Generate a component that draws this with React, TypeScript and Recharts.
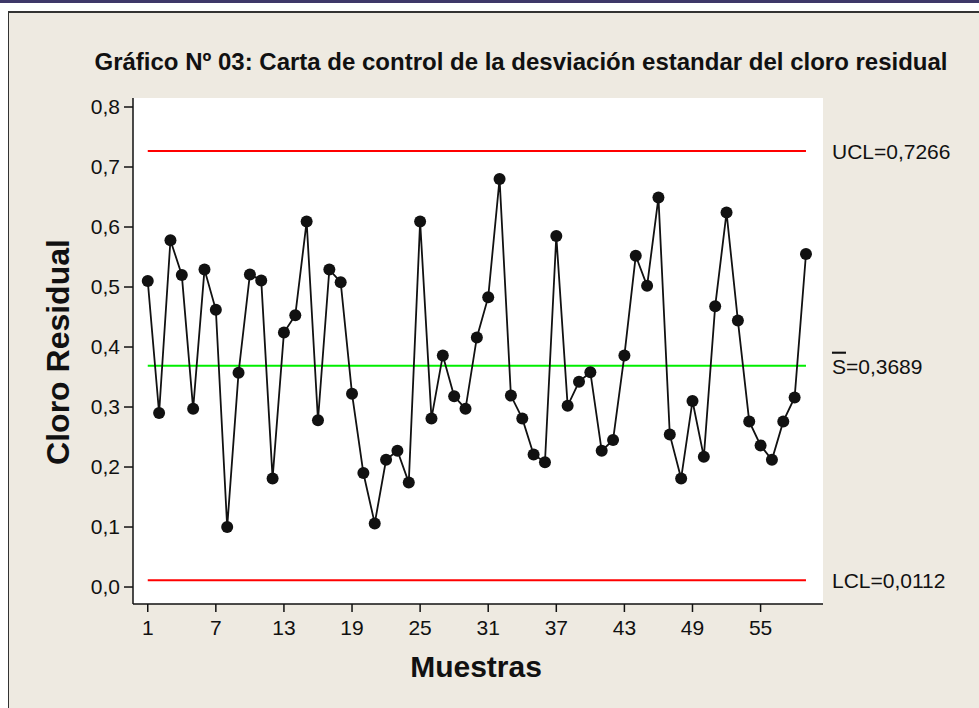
import React from "react";
import {
  LineChart,
  Line,
  XAxis,
  YAxis,
  CartesianGrid,
  ReferenceLine,
} from "recharts";

const muestras = [
  1, 2, 3, 4, 5, 6, 7, 8, 9, 10, 11, 12, 13, 14, 15, 16, 17, 18, 19, 20,
  21, 22, 23, 24, 25, 26, 27, 28, 29, 30, 31, 32, 33, 34, 35, 36, 37, 38, 39, 40,
  41, 42, 43, 44, 45, 46, 47, 48, 49, 50, 51, 52, 53, 54, 55, 56, 57, 58, 59,
];

const desviacion = [
  0.51, 0.29, 0.578, 0.52, 0.297, 0.529, 0.462, 0.1, 0.357, 0.521,
  0.511, 0.181, 0.424, 0.453, 0.609, 0.278, 0.529, 0.508, 0.322, 0.19,
  0.106, 0.212, 0.227, 0.174, 0.609, 0.281, 0.386, 0.318, 0.297, 0.416,
  0.483, 0.68, 0.319, 0.281, 0.221, 0.208, 0.585, 0.302, 0.342, 0.358,
  0.227, 0.245, 0.386, 0.552, 0.502, 0.649, 0.254, 0.181, 0.31, 0.217,
  0.468, 0.624, 0.444, 0.276, 0.236, 0.212, 0.276, 0.316, 0.555,
];

const xTicks = [1, 7, 13, 19, 25, 31, 37, 43, 49, 55];
const yTicks = [0, 0.1, 0.2, 0.3, 0.4, 0.5, 0.6, 0.7, 0.8];

const UCL = 0.7266;
const S_BAR = 0.3689;
const LCL = 0.0112;

const data = muestras.map((m, i) => ({ muestra: m, s: desviacion[i] }));

const first = muestras[0];
const last = muestras[muestras.length - 1];

const tickFont = { fontFamily: "Liberation Sans", fontSize: 21, fill: "#111" };

function limitLabel(prefix: string, value: number, bar = false) {
  return (props: any) => {
    const vb = props.viewBox;
    const x = vb.x + vb.width + 26;
    const y = vb.y + vb.height / 2;
    const txt = "=" + value.toFixed(4).replace(".", ",");
    return (
      <text x={x} y={y} dominantBaseline="central" {...tickFont}>
        <tspan textDecoration={bar ? "overline" : undefined}>{prefix}</tspan>
        <tspan>{txt}</tspan>
      </text>
    );
  };
}

export default function App() {
  return (
    <div
      style={{
        position: "absolute",
        left: 0,
        top: 0,
        width: 979,
        height: 708,
        background: "#fff",
        overflow: "hidden",
      }}
    >
      <div style={{ position: "absolute", left: 0, top: 0, width: 979, height: 3, background: "#3e3868" }} />
      <div
        style={{
          position: "absolute",
          left: 8,
          top: 11,
          width: 971,
          height: 697,
          background: "#eeeae1",
          borderTop: "2px solid #333",
          borderLeft: "1px solid #333",
        }}
      />
      <div
        style={{
          position: "absolute",
          left: 521,
          top: 62,
          transform: "translate(-50%, -50%)",
          whiteSpace: "nowrap",
          fontFamily: "Liberation Sans",
          fontWeight: "bold",
          fontSize: 24,
          color: "#111",
        }}
      >
        Gráfico Nº 03: Carta de control de la desviación estandar del cloro residual
      </div>
      <div
        style={{
          position: "absolute",
          left: 58,
          top: 352,
          transform: "translate(-50%, -50%) rotate(-90deg)",
          whiteSpace: "nowrap",
          fontFamily: "Liberation Sans",
          fontWeight: "bold",
          fontSize: 32,
          color: "#111",
        }}
      >
        Cloro Residual
      </div>
      <div
        style={{
          position: "absolute",
          left: 476,
          top: 667,
          transform: "translate(-50%, -50%)",
          whiteSpace: "nowrap",
          fontFamily: "Liberation Sans",
          fontWeight: "bold",
          fontSize: 30,
          color: "#111",
        }}
      >
        Muestras
      </div>
      <div style={{ position: "absolute", left: 0, top: 0 }}>
        <LineChart
          width={979}
          height={708}
          data={data}
          margin={{ top: 98, right: 156, bottom: 44, left: 73 }}
        >
          <CartesianGrid horizontal={false} vertical={false} fill="#fff" />
          <XAxis
            dataKey="muestra"
            type="number"
            domain={[-0.3, 60.5]}
            ticks={xTicks}
            height={60}
            tickSize={8}
            tickMargin={8}
            tick={tickFont}
            stroke="#111"
            strokeWidth={1.5}
            allowDataOverflow
          />
          <XAxis
            xAxisId="top"
            orientation="top"
            type="number"
            domain={[0, 1]}
            height={0}
            tick={false}
            tickLine={false}
            stroke="#111"
            strokeWidth={1.5}
          />
          <YAxis
            type="number"
            domain={[-0.0283, 0.815]}
            ticks={yTicks}
            width={60}
            tickSize={9}
            tickMargin={4}
            tick={tickFont}
            tickFormatter={(v: number) => v.toFixed(1).replace(".", ",")}
            stroke="#111"
            strokeWidth={1.5}
            allowDataOverflow
          />
          <YAxis
            yAxisId="right"
            orientation="right"
            type="number"
            domain={[0, 1]}
            width={0}
            tick={false}
            tickLine={false}
            stroke="#111"
            strokeWidth={1.5}
          />
          <ReferenceLine
            segment={[{ x: first, y: UCL }, { x: last, y: UCL }]}
            stroke="#ff0000"
            strokeWidth={2}
            label={limitLabel("UCL", UCL)}
          />
          <ReferenceLine
            segment={[{ x: first, y: S_BAR }, { x: last, y: S_BAR }]}
            stroke="#00ee00"
            strokeWidth={2}
            label={limitLabel("S", S_BAR, true)}
          />
          <ReferenceLine
            segment={[{ x: first, y: LCL }, { x: last, y: LCL }]}
            stroke="#ff0000"
            strokeWidth={2}
            label={limitLabel("LCL", LCL)}
          />
          <Line
            dataKey="s"
            stroke="#111"
            strokeWidth={1.8}
            dot={{ r: 6, fill: "#111", stroke: "none" }}
            isAnimationActive={false}
          />
        </LineChart>
      </div>
    </div>
  );
}
